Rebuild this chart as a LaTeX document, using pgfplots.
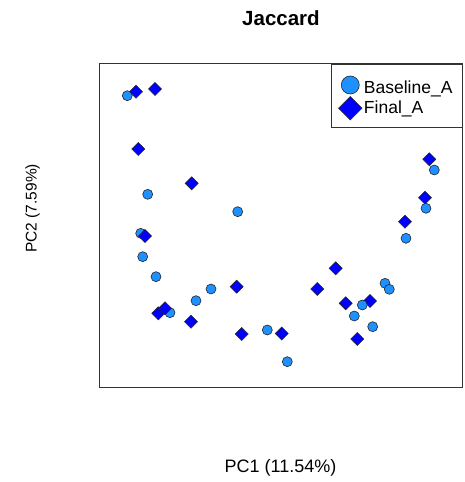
\documentclass[border=0pt]{standalone}
\usepackage{pgfplots}
\pgfplotsset{compat=1.18}
\usepackage{fontspec}
\setmainfont{Liberation Sans}
\definecolor{basec}{HTML}{1E90FF}
\definecolor{finalc}{HTML}{0000FF}
\definecolor{framec}{HTML}{333333}
\begin{document}
\begin{tikzpicture}
\useasboundingbox (0,0) rectangle (465pt,482pt);
\begin{axis}[
  at={(99pt,94.5pt)}, anchor=south west,
  scale only axis, width=363.5pt, height=323.5pt,
  xmin=99, xmax=462.5, ymin=94.5, ymax=418,
  ticks=none,
  axis line style={line width=1pt, draw=framec},
  legend style={at={(1,1)}, anchor=north east, draw=framec, line width=1pt,
    fill=white, font=\fontsize{17.5}{20}\selectfont,
    inner xsep=7.5pt, inner ysep=8pt, row sep=-1pt,
    /tikz/every even column/.append style={column sep=6pt},
    /tikz/row 1 column 2/.style={text height=19.5pt}},
  legend cell align=left,
  legend image code/.code={\draw[#1, /tikz/every mark/.append style={scale=1.8}] plot coordinates {(0.25cm,0cm)};},
]
\addplot[only marks, mark=*, mark size=5pt, mark options={fill=basec, draw=black!85, line width=0.6pt}]
coordinates {
(127.3,386.3) (147.7,287.7) (237.7,270.3) (140.7,248.7) (142.7,225.3)
(156,205.3) (211,193) (196,181.3) (170,169.3) (267.3,152) (287.3,120.3)
(406,243.7) (385,198.7) (389.3,192.7) (354.3,166) (372.7,155.3)
};
\addlegendentry{Baseline\_A}
\addplot[only marks, mark=square*, mark size=4.6pt, mark options={rotate=45, fill=finalc, draw=black!85, line width=0.6pt}]
coordinates {
(136,390.3) (155,393) (138.3,333) (191.7,298.7) (145,246) (236.7,195.3)
(158.3,168.7) (165,173.7) (191,160.3) (241.7,148) (281.7,148.5)
(405,260.3) (335.7,213.7) (317.3,193) (345.7,178.7) (370,181) (357.3,143)
(429.3,322.7) (425,284.3)
};
\addlegendentry{Final\_A}
\addplot[only marks, forget plot, mark=*, mark size=5pt, mark options={fill=basec, draw=black!85, line width=0.6pt}]
coordinates {
(362.3,177) (434.3,312) (426,273.7)
};
\end{axis}
\node[anchor=base, font=\fontsize{20.5}{24}\selectfont\bfseries] at (281pt,456.3pt) {Jaccard};
\node[anchor=base, font=\fontsize{18}{22}\selectfont] at (280.5pt,9.3pt) {PC1 (11.54\%)};
\node[anchor=base, rotate=90, font=\fontsize{15.5}{19}\selectfont] at (36.7pt,273.7pt) {PC2 (7.59\%)};
\end{tikzpicture}
\end{document}
